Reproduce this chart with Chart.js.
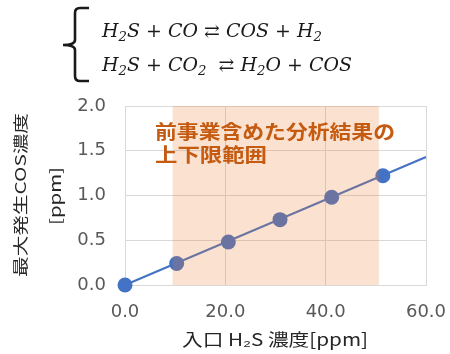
<!DOCTYPE html>
<html>
<head>
<meta charset="utf-8">
<script src="https://cdn.jsdelivr.net/npm/chart.js@4"></script>
<style>
  html, body { margin: 0; padding: 0; background: #fff; }
  #wrap { position: relative; width: 450px; height: 354px; overflow: hidden; }
  #chart { position: absolute; left: 0; top: 0; }
  .eq {
    position: absolute; left: 102px;
    font-family: "DejaVu Serif", serif; font-style: italic; font-size: 18px;
    color: #1a1a1a; white-space: nowrap; line-height: 20px;
    transform-origin: 0 50%;
  }
  .eq sub { font-size: 0.7em; vertical-align: -0.35em; line-height: 0; }
  .eq .op { font-style: normal; }
  #eq1 { top: 21px; }
  #eq2 { top: 55px; }
</style>
</head>
<body>
<div id="wrap">
  <canvas id="chart" width="450" height="354"></canvas>
  <div class="eq" id="eq1" data-w="220">H<sub>2</sub>S <span class="op">+</span> CO <span class="op">⇄</span> COS <span class="op">+</span> H<sub>2</sub></div>
  <div class="eq" id="eq2" data-w="250">H<sub>2</sub>S <span class="op">+</span> CO<sub>2</sub>&nbsp; <span class="op">⇄</span> H<sub>2</sub>O <span class="op">+</span> COS</div>
</div>
<script>
// Inlet H2S concentration [ppm] and maximum COS generated [ppm]
const conc = [0, 10.3, 20.6, 30.9, 41.2, 51.4];
const cosMax = [0, 0.24, 0.48, 0.73, 0.98, 1.22];

// Linear fit drawn across the whole axis
const fitX = [0, 60];
const fitY = [0, 1.43];

// Axis ticks
const xTicks = [0, 20, 40, 60];
const yTicks = [0, 0.5, 1.0, 1.5, 2.0];

// Lower / upper limits of earlier analysis results [ppm]
const rangeLow = 9.5;
const rangeHigh = 50.6;

// Labels
const xTitle = '入口 H₂S 濃度[ppm]';
const yTitle = ['最大発生COS濃度', '[ppm]'];
const rangeNote = ['前事業含めた分析結果の', '上下限範囲'];

// Equations: stretch each line to its intended width
document.querySelectorAll('.eq').forEach(el => {
  const w = el.getBoundingClientRect().width;
  el.style.transform = 'scaleX(' + (parseFloat(el.dataset.w) / w) + ')';
});

function fitText(ctx, text, x, y, width, font, color, align, rot) {
  ctx.save();
  ctx.font = font;
  ctx.fillStyle = color;
  ctx.textAlign = align;
  ctx.textBaseline = 'middle';
  const w = ctx.measureText(text).width;
  ctx.translate(x, y);
  if (rot) ctx.rotate(rot);
  ctx.scale(width / w, 1);
  ctx.fillText(text, 0, 0);
  ctx.restore();
}

const decorations = {
  id: 'decorations',
  afterDatasetsDraw(chart) {
    const { ctx, chartArea: a, scales: { x } } = chart;
    const x0 = x.getPixelForValue(rangeLow);
    const x1 = x.getPixelForValue(rangeHigh);
    ctx.save();
    ctx.fillStyle = 'rgba(237, 125, 49, 0.23)';
    ctx.fillRect(x0, a.top, x1 - x0, a.bottom - a.top);
    ctx.restore();
    const f = 'bold 19px "Noto Sans CJK JP", sans-serif';
    fitText(ctx, rangeNote[0], 155, 132, 240, f, '#C55A11', 'left');
    fitText(ctx, rangeNote[1], 155, 155, 112, f, '#C55A11', 'left');
  },
  afterDraw(chart) {
    const { ctx } = chart;
    const tf = '15px "Noto Sans CJK JP", sans-serif';
    fitText(ctx, yTitle[0], 20, 195, 164, tf, '#262626', 'center', -Math.PI / 2);
    fitText(ctx, yTitle[1], 55, 196, 58, tf, '#262626', 'center', -Math.PI / 2);
    fitText(ctx, xTitle, 275, 340, 186, '17px "Noto Sans CJK JP", sans-serif', '#262626', 'center');

    // curly brace grouping the two reactions
    ctx.save();
    ctx.strokeStyle = '#1a1a1a';
    ctx.lineWidth = 2.6;
    ctx.lineCap = 'butt';
    ctx.lineJoin = 'miter';
    ctx.beginPath();
    ctx.moveTo(89, 8);
    ctx.lineTo(80, 8);
    ctx.quadraticCurveTo(75, 8, 75, 13);
    ctx.lineTo(75, 40);
    ctx.quadraticCurveTo(75, 45, 63, 45);
    ctx.quadraticCurveTo(75, 45, 75, 50);
    ctx.lineTo(75, 76);
    ctx.quadraticCurveTo(75, 81, 80, 81);
    ctx.lineTo(89, 81);
    ctx.stroke();
    ctx.restore();
  }
};

const blue = '#4472C4';
const tickFont = { family: '"DejaVu Sans", sans-serif', size: 18 };

new Chart(document.getElementById('chart'), {
  type: 'scatter',
  data: {
    datasets: [
      {
        label: 'fit',
        data: fitX.map((v, i) => ({ x: v, y: fitY[i] })),
        showLine: true,
        borderColor: blue,
        borderWidth: 2,
        pointRadius: 0,
        clip: false
      },
      {
        label: 'COS',
        data: conc.map((v, i) => ({ x: v, y: cosMax[i] })),
        showLine: false,
        backgroundColor: blue,
        borderColor: blue,
        borderWidth: 0,
        pointRadius: 7.5,
        clip: false
      }
    ]
  },
  options: {
    responsive: false,
    animation: false,
    layout: { padding: { top: 106, right: 24, left: 0, bottom: 0 } },
    plugins: { legend: { display: false }, tooltip: { enabled: false } },
    scales: {
      x: {
        type: 'linear', min: 0, max: 60,
        afterBuildTicks: s => { s.ticks = xTicks.map(v => ({ value: v })); },
        afterFit: s => { s.height = 69; s.paddingLeft = 0; s.paddingRight = 0; },
        grid: { color: '#d9d9d9', drawTicks: false, lineWidth: 1 },
        border: { color: '#d9d9d9' },
        ticks: { padding: 17, color: '#595959', font: tickFont, maxRotation: 0,
                 callback: v => Number(v).toFixed(1) }
      },
      y: {
        type: 'linear', min: 0, max: 2,
        afterBuildTicks: s => { s.ticks = yTicks.map(v => ({ value: v })); },
        afterFit: s => { s.width = 125; s.paddingTop = 0; s.paddingBottom = 0; },
        grid: { color: '#d9d9d9', drawTicks: false, lineWidth: 1 },
        border: { color: '#d9d9d9' },
        ticks: { padding: 19, color: '#595959', font: tickFont,
                 callback: v => Number(v).toFixed(1) }
      }
    }
  },
  plugins: [decorations]
});
</script>
</body>
</html>
